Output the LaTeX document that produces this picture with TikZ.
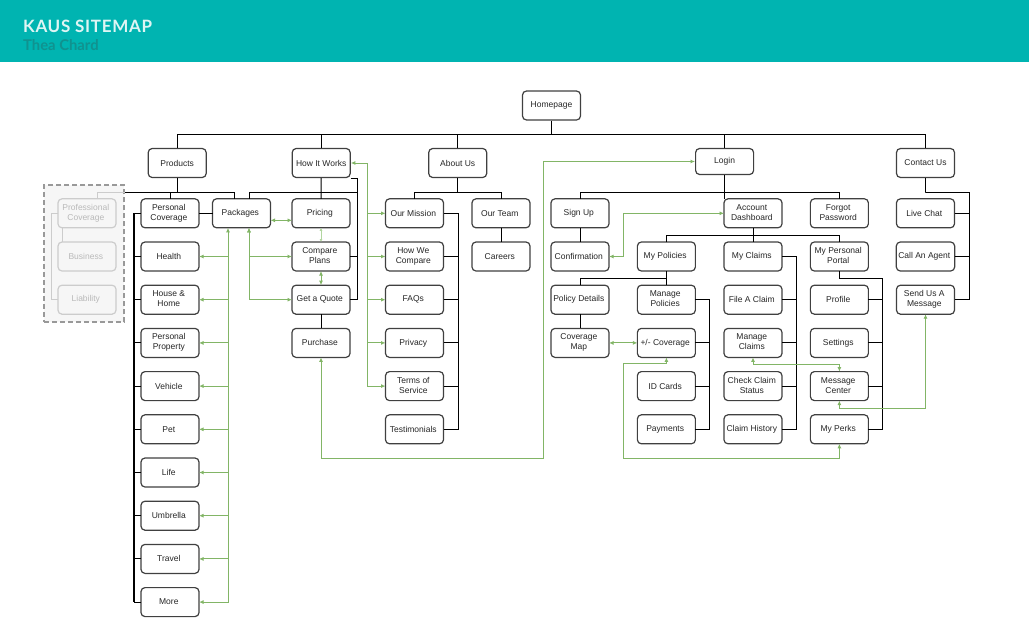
\documentclass[tikz,border=0pt]{standalone}
\usepackage{fontspec}
\setmainfont{Liberation Sans}
\newfontfamily\titlefont{Lato}[LetterSpace=4]
\newfontfamily\subtitlefont{Lato}
\usepackage{tikz}
\usetikzlibrary{matrix,arrows.meta}

\definecolor{headerteal}{RGB}{0,180,177}
\definecolor{titlewhite}{RGB}{222,245,244}
\definecolor{subteal}{RGB}{16,146,143}
\definecolor{linkgreen}{RGB}{130,181,102}
\definecolor{linklight}{RGB}{178,214,160}
\definecolor{ghostgrey}{RGB}{204,204,204}
\definecolor{ghosttext}{RGB}{185,185,185}
\definecolor{ghostfill}{RGB}{246,246,246}

\newcommand{\twolines}[2]{\begin{tabular}{@{}c@{}}#1\\#2\end{tabular}}

\tikzset{
  box/.style={rectangle,rounded corners=4pt,draw=black!75,line width=1.2pt,fill=white,
    minimum width=58pt,minimum height=29pt,inner sep=2pt,align=center,text=black!85,
    font=\fontsize{8.5}{10}\selectfont},
  ghostbox/.style={box,draw=ghostgrey,fill=ghostfill,text=ghosttext},
  ghostframe/.style={rectangle,draw=black!40,dash pattern=on 5pt off 3pt,line width=1.2pt,
    fill=ghostfill,minimum width=80pt,minimum height=137pt},
  treeline/.style={draw=black,line width=1pt},
  stemline/.style={draw=black,line width=1.8pt},
  ghostline/.style={draw=ghostgrey,line width=1pt},
  greenlink/.style={draw=linkgreen,line width=1pt},
}

\begin{document}
\begin{tikzpicture}[x=1pt,y=-1pt,>={Latex[length=4.5pt,width=4pt]}]
\useasboundingbox (0,0) rectangle (1029,637);
\fill[headerteal] (0,0) rectangle (1029,62);
\node[anchor=base west,inner sep=0pt,font=\titlefont\bfseries\fontsize{17}{20}\selectfont,text=titlewhite] (title) at (23,32.3) {KAUS SITEMAP};
\node[anchor=base west,inner sep=0pt,font=\subtitlefont\bfseries\fontsize{14.8}{17}\selectfont,text=subteal] (author) at (23,50) {Thea Chard};

\node[ghostframe] (ghostarea) at (84,253.5) {};

\node[box] (home) at (551.5,105.5) {Homepage};
\node[box] (products) at (177.2,163) {Products};
\node[box] (howitworks) at (321.2,163) {How It Works};
\node[box] (aboutus) at (457.7,163) {About Us};
\node[box,minimum height=26pt] (login) at (724.6,161.5) {Login};
\node[box] (contact) at (925.5,163) {Contact Us};

\matrix [matrix of nodes,inner sep=0pt,outer sep=0pt,anchor=north west,
  column sep={0pt,between origins},row sep={43.2pt,between origins},
  nodes={box,anchor=center},
  column 1/.style={nodes={ghostbox}},
  ] (grid) at (57.4,198.2)
{
  |(profcov)| \twolines{Professional}{Coverage} &[83pt,between origins] |(pcov)| \twolines{Personal}{Coverage} &[71.5pt,between origins] |(packages)| Packages &[79.5pt,between origins] |(pricing)| Pricing &[93.5pt,between origins] |(mission)| Our Mission &[86.5pt,between origins] |(team)| Our Team &[79pt,between origins] |(signup)| Sign Up &[86.4pt,between origins] &[86.6pt,between origins] |(dashboard)| \twolines{Account}{Dashboard} &[86.4pt,between origins] |(forgot)| \twolines{Forgot}{Password} &[86.1pt,between origins] |(livechat)| Live Chat \\
  |(business)| Business & |(health)| Health & & |(plans)| \twolines{Compare}{Plans} & |(compare)| \twolines{How We}{Compare} & |(careers)| Careers & |(confirm)| Confirmation & |(policies)| My Policies & |(claims)| My Claims & |(portal)| \twolines{My Personal}{Portal} & |(callagent)| Call An Agent \\
  |(liability)| Liability & |(house)| \twolines{House \&}{Home} & & |(quote)| Get a Quote & |(faqs)| FAQs & & |(pdetails)| Policy Details & |(mpolicies)| \twolines{Manage}{Policies} & |(fileclaim)| File A Claim & |(profile)| Profile & |(sendmsg)| \twolines{Send Us A}{Message} \\
  & |(property)| \twolines{Personal}{Property} & & |(purchase)| Purchase & |(privacy)| Privacy & & |(covmap)| \twolines{Coverage}{Map} & |(pmcov)| +/- Coverage & |(mclaims)| \twolines{Manage}{Claims} & |(settings)| Settings \\
  & |(vehicle)| Vehicle & & & |(terms)| \twolines{Terms of}{Service} & & & |(idcards)| ID Cards & |(checkstatus)| \twolines{Check Claim}{Status} & |(msgcenter)| \twolines{Message}{Center} \\
  & |(pet)| Pet & & & |(testimonials)| Testimonials & & & |(payments)| Payments & |(history)| Claim History & |(perks)| My Perks \\
  & |(life)| Life \\
  & |(umbrella)| Umbrella \\
  & |(travel)| Travel \\
  & |(more)| More \\
};

\coordinate (topbus) at ([yshift=-14pt]home.south);
\draw[treeline] (home.south) -- (topbus);
\draw[treeline] (products.north) |- (topbus) -| (contact.north);
\draw[treeline] (howitworks.north) -- (howitworks.north |- topbus) (aboutus.north) -- (aboutus.north |- topbus) (login.north) -- (login.north |- topbus);

\coordinate (prodbus) at ([yshift=6.5pt]pcov.north);
\draw[treeline] (products.south) -- (products.south |- prodbus);
\draw[treeline] (ghostarea.east |- prodbus) -| ([xshift=-7.5pt]packages.north);
\draw[treeline] (prodbus) -- (pcov.north);
\draw[ghostline] (ghostarea.east |- prodbus) -| ([xshift=10pt]profcov.north);
\draw[ghostline] (profcov.west) -- ++(-7,0) |- (liability.west);
\draw[ghostline] ([xshift=-25pt]profcov.south) -- ([xshift=-25pt]business.north);
\draw[stemline] ([xshift=-7pt]pcov.west) -- ([xshift=-7pt]more.west);
\draw[treeline] (pcov.west) -- ++(-7,0) (health.west) -- ++(-7,0) (house.west) -- ++(-7,0) (property.west) -- ++(-7,0) (vehicle.west) -- ++(-7,0) (pet.west) -- ++(-7,0) (life.west) -- ++(-7,0) (umbrella.west) -- ++(-7,0) (travel.west) -- ++(-7,0) (more.west) -- ++(-7,0);
\draw[treeline] (pcov.east) -- (packages.west);

\coordinate (hiwbus) at ([yshift=6.5pt]pricing.north);
\draw[treeline] (howitworks.south) -- (pricing.north);
\draw[treeline] ([xshift=7.5pt]packages.north) |- (hiwbus -| quote.east) -- ++(7,0);
\draw[treeline] (howitworks.south east) -| ([xshift=7pt]quote.east) -- (quote.east);
\draw[treeline] (plans.east) -- ++(7,0);
\draw[treeline] (quote.south) -- (purchase.north);

\draw[treeline] (aboutus.south) |- ([yshift=6.5pt]mission.north) -- (mission.north);
\draw[treeline] (aboutus.south) |- ([yshift=6.5pt]team.north) -- (team.north);
\draw[treeline] (team.south) -- (careers.north);
\draw[treeline] (mission.east) -- ++(15,0) |- (testimonials.east);
\draw[treeline] (compare.east) -- ++(15,0) (faqs.east) -- ++(15,0) (privacy.east) -- ++(15,0) (terms.east) -- ++(15,0);

\draw[treeline] (login.south) -- (login.south |- dashboard.north);
\draw[treeline] (signup.north) |- ([yshift=6.5pt]dashboard.north) -| (forgot.north);
\draw[treeline] (signup.south) -- (confirm.north);
\draw[treeline] (dashboard.south) -- (claims.north);
\draw[treeline] (policies.north) |- ([yshift=6.5pt]claims.north) -| (portal.north);
\draw[treeline] (policies.south) -- (mpolicies.north);
\draw[treeline] (policies.south) |- ([yshift=6.5pt]pdetails.north) -- (pdetails.north);
\draw[treeline] (pdetails.south) -- (covmap.north);
\draw[treeline] (mpolicies.east) -- ++(14.5,0) |- (payments.east);
\draw[treeline] (pmcov.east) -- ++(14.5,0) (idcards.east) -- ++(14.5,0);
\draw[treeline] (claims.east) -- ++(14.5,0) |- (history.east);
\draw[treeline] (fileclaim.east) -- ++(14.5,0) (mclaims.east) -- ++(14.5,0) (checkstatus.east) -- ++(14.5,0);
\draw[treeline] (portal.south) -- ++(0,7) -| ([xshift=14pt]perks.east) -- (perks.east);
\draw[treeline] (profile.east) -- ++(14,0) (settings.east) -- ++(14,0) (msgcenter.east) -- ++(14,0);
\draw[treeline] (contact.south) |- ([yshift=6.5pt]livechat.north) -| ([xshift=15pt]sendmsg.east) -- (sendmsg.east);
\draw[treeline] (livechat.east) -- ++(15,0) (callagent.east) -- ++(15,0);

\draw[greenlink,<->] ([yshift=-7pt]packages.east) -- ([yshift=-7pt]pricing.west);
\draw[greenlink,draw=linklight,{Latex[length=3pt,width=3pt]}-{Latex[length=3pt,width=3pt]}] (pricing.south) -- (plans.north);
\draw[greenlink,<->] (plans.south) -- (quote.north);
\coordinate (pkgfeed) at ([xshift=7.5pt]packages.south);
\draw[greenlink,<->] (pkgfeed) |- (plans.west);
\draw[greenlink,<->] (pkgfeed) |- (quote.west);
\coordinate (prodfeed) at ([xshift=-13.5pt]packages.south);
\draw[greenlink,<->] (prodfeed) |- (more.east);
\draw[greenlink,->] (prodfeed |- health.east) -- (health.east);
\draw[greenlink,->] (prodfeed |- house.east) -- (house.east);
\draw[greenlink,->] (prodfeed |- property.east) -- (property.east);
\draw[greenlink,->] (prodfeed |- vehicle.east) -- (vehicle.east);
\draw[greenlink,->] (prodfeed |- pet.east) -- (pet.east);
\draw[greenlink,->] (prodfeed |- life.east) -- (life.east);
\draw[greenlink,->] (prodfeed |- umbrella.east) -- (umbrella.east);
\draw[greenlink,->] (prodfeed |- travel.east) -- (travel.east);
\coordinate (hiwfeed) at ([xshift=17pt]howitworks.east);
\draw[greenlink,<->] (howitworks.east) -| (hiwfeed |- terms.west) -- (terms.west);
\draw[greenlink,->] (hiwfeed |- mission.west) -- (mission.west);
\draw[greenlink,->] (hiwfeed |- compare.west) -- (compare.west);
\draw[greenlink,->] (hiwfeed |- faqs.west) -- (faqs.west);
\draw[greenlink,->] (hiwfeed |- privacy.west) -- (privacy.west);
\coordinate (lowlane) at (543,458);
\draw[greenlink,<->] (purchase.south) |- (lowlane) |- (login.west);
\coordinate (dashlane) at ([xshift=14pt]confirm.east);
\draw[greenlink,<->] (confirm.east) -- (dashlane) |- (dashboard.west);
\draw[greenlink,<->] (covmap.east) -- (pmcov.west);
\draw[greenlink,<->] (pmcov.south) -- ++(0,6.5) -| (dashlane |- lowlane) -| (perks.south);
\draw[greenlink,<->] (mclaims.south) |- ([yshift=7pt]msgcenter.north) -- (msgcenter.north);
\draw[greenlink,<->] (msgcenter.south) -- ++(0,7.5) -| (sendmsg.south);
\end{tikzpicture}
\end{document}
